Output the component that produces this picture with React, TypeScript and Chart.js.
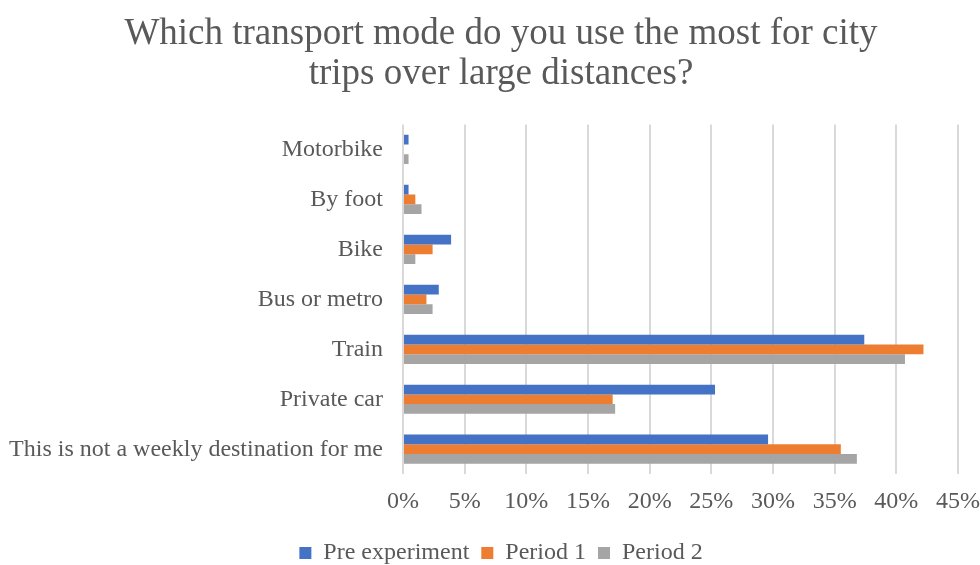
import React, { useEffect, useRef } from "react";
import { Chart, registerables } from "chart.js";

Chart.register(...registerables);

const categories = [
  "Motorbike",
  "By foot",
  "Bike",
  "Bus or metro",
  "Train",
  "Private car",
  "This is not a weekly destination for me",
];
const preExperiment = [0.45, 0.45, 3.9, 2.9, 37.4, 25.3, 29.6];
const period1 = [0, 1.0, 2.4, 1.9, 42.2, 17.0, 35.5];
const period2 = [0.45, 1.5, 1.0, 2.4, 40.7, 17.2, 36.8];
const xTicks = [0, 5, 10, 15, 20, 25, 30, 35, 40, 45];

const FONT = "'Liberation Serif', 'Times New Roman', serif";
const TEXT = "#595959";

const unclipLabels = {
  id: "unclipLabels",
  afterLayout(chart: any) {
    if (chart.scales.y) chart.scales.y.left = 0;
  },
};

export default function App() {
  const ref = useRef<HTMLCanvasElement>(null);
  useEffect(() => {
    if (!ref.current) return;
    const chart = new Chart(ref.current, {
      type: "bar",
      data: {
        labels: categories,
        datasets: [
          { label: "Pre experiment", data: preExperiment, backgroundColor: "#4472C4" },
          { label: "Period 1", data: period1, backgroundColor: "#ED7D31" },
          { label: "Period 2", data: period2, backgroundColor: "#A5A5A5" },
        ],
      },
      plugins: [unclipLabels],
      options: {
        indexAxis: "y",
        animation: false,
        responsive: false,
        maintainAspectRatio: false,
        datasets: { bar: { barPercentage: 1, categoryPercentage: 0.585 } },
        layout: { padding: { left: 44, right: 42, top: 10, bottom: -10 } },
        plugins: {
          title: {
            display: true,
            text: ["Which transport mode do you use the most for city", "trips over large distances?"],
            color: TEXT,
            font: { family: FONT, size: 37, weight: "normal", lineHeight: 1.08 },
            padding: { top: 4, bottom: 30.5 },
          },
          legend: {
            position: "bottom",
            labels: {
              color: TEXT,
              font: { family: FONT, size: 24 },
              boxWidth: 12,
              boxHeight: 12,
              padding: 12,
            },
          },
          tooltip: { enabled: false },
        },
        scales: {
          x: {
            min: 0,
            max: 45,
            afterBuildTicks: (axis: any) => {
              axis.ticks = xTicks.map((v) => ({ value: v }));
            },
            ticks: {
              color: TEXT,
              font: { family: FONT, size: 24 },
              callback: (v: any) => v + "%",
              padding: 13,
            },
            grid: { color: "#d9d9d9", lineWidth: 2, drawTicks: false },
            border: { display: false },
          },
          y: {
            afterFit: (axis: any) => {
              axis.width = 359;
            },
            ticks: {
              color: TEXT,
              font: { family: FONT, size: 24 },
              padding: 12,
            },
            grid: { display: false },
            border: { display: false },
          },
        },
      },
    });
    return () => chart.destroy();
  }, []);
  return (
    <div style={{ position: "absolute", left: 0, top: 0, width: 980, height: 565, overflow: "hidden" }}>
      <canvas ref={ref} width={1000} height={565} style={{ width: 1000, height: 565 }} />
    </div>
  );
}
